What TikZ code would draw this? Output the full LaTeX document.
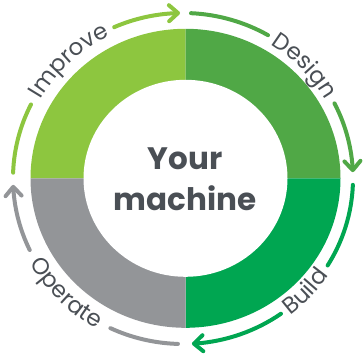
\documentclass[tikz,border=0pt]{standalone}
\usepackage{fontspec}
\setmainfont{Poppins}
\usetikzlibrary{decorations.text,arrows.meta,bending}
\definecolor{cimp}{HTML}{8DC63F}
\definecolor{cdes}{HTML}{50A846}
\definecolor{cbld}{HTML}{00A651}
\definecolor{cop}{HTML}{939598}
\definecolor{txt}{HTML}{4A4F55}
\newfontfamily\labfont{Poppins}
\newcommand\labstyle{\labfont\fontsize{23}{27}\selectfont\color{txt}}
\begin{document}
\begin{tikzpicture}[x=1pt,y=1pt,
  cyc/.style={line width=4pt, line cap=round},
  cycarrow/.style={cyc, -{Straight Barb[length=9pt,width=16pt,round,flex]}},
  lab/.style={decorate, decoration={text along path, text align=center, text={#1}}},
  center/.style={font=\fontsize{31}{41}\selectfont\bfseries, text=txt, anchor=base, inner sep=0pt}
  ]
\useasboundingbox (0,0) rectangle (364,354);
\coordinate (C) at (185.5,175.7);
\coordinate (A) at (183,175.5);
% quadrants
\fill[cimp] (C) -- ++(180:155pt and 149.5pt) arc[start angle=180,end angle=90,x radius=155pt,y radius=149.5pt] -- cycle;
\fill[cdes] (C) -- ++(90:155pt and 149.5pt) arc[start angle=90,end angle=0,x radius=155pt,y radius=149.5pt] -- cycle;
\fill[cbld] (C) -- ++(0:155pt and 149.5pt) arc[start angle=0,end angle=-90,x radius=155pt,y radius=149.5pt] -- cycle;
\fill[cop] (C) -- ++(-90:155pt and 149.5pt) arc[start angle=-90,end angle=-180,x radius=155pt,y radius=149.5pt] -- cycle;
\fill[white] (C) ellipse[x radius=102pt,y radius=98.5pt];
% centre text
\node[center] (your) at (185,185) {Your};
\node[center] (mach) at (185,144) {machine};
% Improve
\draw[cyc,cimp] (A) ++(178:170pt and 165.5pt) arc[start angle=178,end angle=153.4,x radius=170pt,y radius=165.5pt];
\draw[cycarrow,cimp] (A) ++(113.9:170pt and 165.5pt) arc[start angle=113.9,end angle=91,x radius=170pt,y radius=165.5pt];
\path[lab={|\labstyle|Improve}] (A) ++(163.6:163.5pt and 159pt) arc[start angle=163.6,end angle=103.6,x radius=163.5pt,y radius=159pt];
% Design
\draw[cyc,cdes] (A) ++(87.3:170pt and 165.5pt) arc[start angle=87.3,end angle=60,x radius=170pt,y radius=165.5pt];
\draw[cycarrow,cdes] (A) ++(27:170pt and 165.5pt) arc[start angle=27,end angle=2.2,x radius=170pt,y radius=165.5pt];
\path[lab={|\labstyle|Design}] (A) ++(73.5:163.5pt and 159pt) arc[start angle=73.5,end angle=13.5,x radius=163.5pt,y radius=159pt];
% Build
\draw[cyc,cbld] (A) ++(-2.2:170pt and 165.5pt) arc[start angle=-2.2,end angle=-31.7,x radius=170pt,y radius=165.5pt];
\draw[cycarrow,cbld] (A) ++(-54.8:170pt and 165.5pt) arc[start angle=-54.8,end angle=-87,x radius=170pt,y radius=165.5pt];
\path[lab={|\labstyle|Build}] (A) ++(-73.3:176.5pt and 172pt) arc[start angle=-73.3,end angle=-13.3,x radius=176.5pt,y radius=172pt];
% Operate
\draw[cyc,cop] (A) ++(-91.7:170pt and 165.5pt) arc[start angle=-91.7,end angle=-115.3,x radius=170pt,y radius=165.5pt];
\draw[cycarrow,cop] (A) ++(-154.4:170pt and 165.5pt) arc[start angle=-154.4,end angle=-177.8,x radius=170pt,y radius=165.5pt];
\path[lab={|\labstyle|Operate}] (A) ++(-164.9:176.5pt and 172pt) arc[start angle=-164.9,end angle=-104.9,x radius=176.5pt,y radius=172pt];
\end{tikzpicture}
\end{document}
